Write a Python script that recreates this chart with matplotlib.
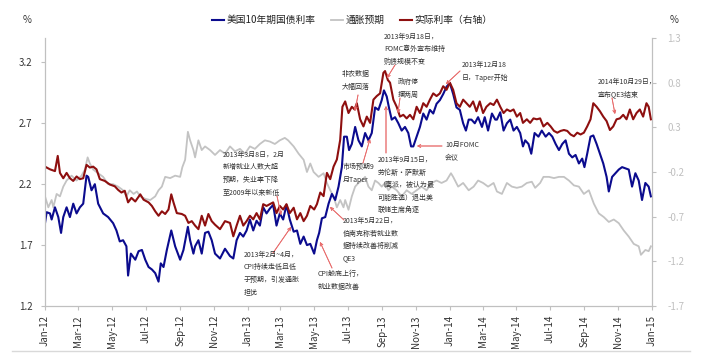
import matplotlib
matplotlib.use("Agg")
import matplotlib.pyplot as plt
import matplotlib.dates as mdates
from matplotlib.lines import Line2D
import pandas as pd
import numpy as np

plt.rcParams['font.family'] = ['Noto Sans CJK SC', 'DejaVu Sans']

# ---------------- data (days since 2012-01-01) ----------------
blue_days = [0,3,9,12,18,24,29,33,39,45,51,57,63,69,75,78,84,90,96,105,
             114,123,129,135,141,147,150,155,163,169,175,181,187,193,199,205,209,214,220,228,
             235,244,250,258,262,268,
             271,277,283,289,295,301,307,316,325,334,340,346,352,358,364,370,376,382,388,394,
             400,406,412,418,424,430,436,442,449,455,461,467,473,479,486,491,495,500,506,512,
             518,524,530,536,540,
             545,549,554,560,566,572,578,584,590,596,602,608,612,617,621,626,632,638,644,650,
             656,661,665,671,677,683,689,695,701,707,713,719,725,731,737,743,749,755,760,765,
             770,776,782,789,794,800,807,813,
             816,822,828,834,840,846,852,858,863,867,873,878,884,891,897,904,910,916,922,928,
             934,940,946,952,958,964,970,974,979,985,990,996,1002,1008,1014,1018,1024,1030,1036,1042,
             1048,1054,1060,1066,1072,1078,1084,1090,1094]
blue_vals = [1.88,1.97,1.96,1.91,2.01,1.93,1.80,1.93,2.01,1.93,2.04,1.96,2.01,2.04,2.27,2.26,2.15,2.20,2.04,1.96,
             1.93,1.88,1.82,1.73,1.74,1.69,1.45,1.63,1.58,1.65,1.66,1.58,1.52,1.50,1.47,1.40,1.55,1.52,1.66,1.82,
             1.69,1.58,1.66,1.85,1.74,1.63,
             1.69,1.74,1.63,1.80,1.81,1.74,1.63,1.59,1.67,1.61,1.59,1.74,1.80,1.77,1.82,1.91,1.82,1.90,1.86,2.01,
             1.96,2.00,2.03,1.86,1.96,1.91,2.03,1.91,1.81,1.82,1.71,1.77,1.70,1.71,1.63,1.74,1.80,1.92,1.93,2.04,
             2.12,2.07,2.18,2.34,2.59,
             2.59,2.48,2.53,2.67,2.56,2.51,2.62,2.56,2.62,2.83,2.81,2.89,2.97,2.92,2.83,2.73,2.75,2.70,2.64,2.67,
             2.62,2.51,2.51,2.59,2.67,2.78,2.73,2.81,2.78,2.86,2.89,2.94,3.00,3.03,2.94,2.83,2.81,2.70,2.64,2.73,
             2.73,2.70,2.75,2.67,2.75,2.64,2.78,2.73,
             2.73,2.79,2.64,2.70,2.73,2.64,2.67,2.62,2.51,2.56,2.53,2.45,2.62,2.59,2.64,2.59,2.62,2.59,2.53,2.48,
             2.53,2.56,2.45,2.42,2.44,2.37,2.41,2.34,2.45,2.59,2.60,2.53,2.45,2.37,2.26,2.14,2.26,2.29,2.32,2.34,
             2.33,2.32,2.18,2.29,2.23,2.07,2.21,2.18,2.10]

gray_days = [0,6,12,15,21,27,33,39,48,57,66,72,77,81,87,96,105,114,123,132,
             141,147,153,160,166,172,181,190,199,205,211,217,226,235,244,248,253,258,262,268,
             271,277,283,289,298,307,316,325,334,343,352,361,370,379,388,397,406,415,424,433,
             439,449,458,467,473,479,485,494,503,509,515,521,527,533,539,
             542,548,554,560,566,572,578,584,590,596,602,608,614,620,626,635,644,653,662,671,
             680,689,698,707,716,725,733,737,746,755,765,774,782,791,800,810,
             816,825,834,843,852,861,870,879,885,894,900,910,919,928,937,946,955,964,973,982,
             991,1000,1009,1018,1027,1036,1045,1054,1063,1072,1076,1084,1090,1094]
gray_vals = [2.10,2.01,2.07,2.01,2.12,2.10,2.18,2.23,2.27,2.23,2.27,2.32,2.42,2.37,2.32,2.29,2.26,2.20,2.20,2.18,
             2.15,2.10,2.15,2.12,2.14,2.10,2.08,2.07,2.10,2.15,2.18,2.26,2.25,2.27,2.26,2.34,2.40,2.63,2.56,2.48,
             2.42,2.56,2.48,2.51,2.48,2.44,2.48,2.45,2.51,2.47,2.49,2.45,2.51,2.49,2.53,2.56,2.55,2.53,2.56,2.58,
             2.56,2.51,2.45,2.40,2.30,2.37,2.30,2.26,2.29,2.21,2.15,2.10,2.01,2.07,2.01,
             2.07,1.99,2.10,2.18,2.21,2.23,2.26,2.18,2.15,2.23,2.21,2.18,2.21,2.15,2.18,2.15,2.10,2.15,2.12,2.15,
             2.18,2.15,2.21,2.23,2.21,2.23,2.29,2.26,2.18,2.21,2.15,2.18,2.23,2.21,2.18,2.21,
             2.14,2.12,2.21,2.18,2.17,2.18,2.21,2.22,2.17,2.21,2.26,2.26,2.25,2.26,2.26,2.23,2.19,2.18,2.12,2.15,
             2.04,1.96,1.93,1.89,1.91,1.88,1.82,1.77,1.71,1.69,1.62,1.66,1.65,1.69]

red_days = [0,9,18,23,27,33,39,45,51,57,63,69,75,81,87,93,99,108,117,126,
            132,138,144,150,156,163,172,178,187,193,199,205,211,217,223,228,232,238,247,253,
            259,265,
            271,277,283,289,295,301,307,316,325,334,340,346,352,358,364,370,376,382,388,394,
            400,406,412,418,424,430,436,442,449,455,461,467,473,479,486,491,497,503,509,515,
            521,527,533,537,542,
            548,554,559,563,569,575,581,587,593,599,605,611,614,619,623,629,635,641,647,653,
            659,665,671,677,683,689,695,701,707,713,719,725,731,737,743,749,755,761,767,773,
            779,785,791,797,804,810,
            816,822,828,834,840,846,852,858,863,870,876,882,888,894,900,907,913,919,925,931,
            937,943,949,955,961,967,973,979,985,990,996,1002,1008,1014,1020,1026,1032,1038,1044,1050,
            1056,1062,1068,1074,1080,1086,1090,1094]
red_vals = [-0.14,-0.17,-0.19,-0.02,-0.21,-0.27,-0.21,-0.27,-0.30,-0.25,-0.28,-0.27,-0.12,-0.15,-0.14,-0.17,-0.28,-0.30,-0.34,-0.36,
            -0.40,-0.43,-0.41,-0.54,-0.49,-0.53,-0.45,-0.51,-0.54,-0.58,-0.64,-0.69,-0.64,-0.67,-0.62,-0.45,-0.54,-0.66,-0.67,-0.69,
            -0.77,-0.75,
            -0.80,-0.84,-0.69,-0.80,-0.67,-0.75,-0.79,-0.84,-0.75,-0.77,-0.92,-0.80,-0.69,-0.80,-0.75,-0.69,-0.73,-0.66,-0.73,-0.56,
            -0.58,-0.56,-0.54,-0.66,-0.58,-0.62,-0.56,-0.66,-0.60,-0.73,-0.66,-0.75,-0.69,-0.58,-0.62,-0.56,-0.43,-0.47,-0.21,-0.28,
            -0.14,-0.06,0.16,0.53,0.59,
            0.46,0.53,0.50,0.57,0.39,0.31,0.42,0.35,0.61,0.65,0.68,0.91,0.93,0.83,0.80,0.61,0.53,0.42,0.44,0.40,
            0.44,0.39,0.53,0.46,0.57,0.53,0.61,0.68,0.65,0.68,0.76,0.72,0.80,0.72,0.57,0.53,0.61,0.57,0.53,0.59,
            0.48,0.59,0.46,0.53,0.57,0.55,
            0.61,0.53,0.46,0.50,0.48,0.50,0.42,0.46,0.35,0.39,0.35,0.40,0.39,0.40,0.31,0.35,0.31,0.26,0.24,0.26,
            0.27,0.26,0.22,0.20,0.24,0.22,0.24,0.31,0.39,0.57,0.53,0.48,0.42,0.37,0.27,0.31,0.39,0.40,0.44,0.39,
            0.50,0.39,0.46,0.50,0.42,0.57,0.53,0.39]

series_names = ['美国10年期国债利率', '通胀预期', '实际利率（右轴）']
left_ticks = [1.2, 1.7, 2.2, 2.7, 3.2]
right_ticks = [-1.7, -1.2, -0.7, -0.2, 0.3, 0.8, 1.3]

annotations = [
    ("2013年3月8日，2月\n新增就业人数大超\n预期，失业率下降\n至2009年以来新低", (223, 151), (277, 196), (281, 215)),
    ("2013年2月~4月，\nCPI持续走低且低\n于预期，引发通胀\n担忧", (244, 251), (273, 253), (291, 227)),
    ("CPI触底上行，\n就业数据改善", (318, 270), (332, 268), (320, 242)),
    ("2013年5月22日，\n伯南克称若就业数\n据持续改善将削减\nQE3", (343, 217), (344, 220), (330, 207)),
    ("市场预期9\n月Taper", (343, 163), (363, 163), (370, 139)),
    ("非农数据\n大幅回落", (342, 70), (358, 95), (355, 111)),
    ("2013年9月18日，\nFOMC意外宣布维持\n购债规模不变", (384, 33), (395, 65), (387, 78)),
    ("政府停\n摆两周", (398, 78), (400, 98), (398, 113)),
    ("2013年9月15日，\n劳伦斯·萨默斯\n（鹰派，被认为最\n可能胜选）退出美\n联储主席角逐", (378, 156), (386, 153), (386, 106)),
    ("10月FOMC\n会议", (445, 141), (442, 146), (417, 146)),
    ("2013年12月18\n日，Taper开始", (462, 61), (460, 71), (446, 84)),
    ("2014年10月29日，\n宣布QE3结束", (598, 78), (612, 98), (615, 114)),
]

# ---------------- figure ----------------
W, H = 717, 355
fig = plt.figure(figsize=(W / 100, H / 100), dpi=100)
ax = fig.add_axes([45 / W, 49 / H, 607 / W, 268 / H])
ax2 = ax.twinx()

base = pd.Timestamp('2012-01-01')
to_dates = lambda d: base + pd.to_timedelta(d, unit='D')

c_blue = '#0b0b8e'
c_gray = '#c3c3c3'
c_red = '#8e0f0f'
spine_c = '#c0c0c0'

ax.plot(to_dates(gray_days), gray_vals, color=c_gray, lw=1.3)
ax.plot(to_dates(blue_days), blue_vals, color=c_blue, lw=1.5)
ax2.plot(to_dates(red_days), red_vals, color=c_red, lw=1.5)

ax.set_xlim(pd.Timestamp('2012-01-01'), pd.Timestamp('2015-01-01'))
ax.set_ylim(1.2, 3.4)
ax2.set_ylim(-1.7, 1.3)
ax.set_yticks(left_ticks)
ax.set_yticklabels([f'{v:.1f}' for v in left_ticks])
ax2.set_yticks(right_ticks)
ax2.set_yticklabels([f'{v:.1f}' for v in right_ticks])
for lab, v in zip(ax2.get_yticklabels(), right_ticks):
    lab.set_color('#ff3b3b' if v < 0 else '#333333')

ax.xaxis.set_major_locator(mdates.MonthLocator(bymonth=[1, 3, 5, 7, 9, 11]))
ax.xaxis.set_major_formatter(mdates.DateFormatter('%b-%y'))
for lab in ax.get_xticklabels():
    lab.set_rotation(90)

for a in (ax, ax2):
    for s in a.spines.values():
        s.set_color(spine_c)
        s.set_linewidth(0.8)
    a.spines['top'].set_visible(False)
    a.tick_params(colors=spine_c, length=3, width=0.8, labelsize=7)
ax.tick_params(axis='both', labelcolor='#333333')
ax.tick_params(axis='y', pad=6)
ax2.tick_params(axis='y', pad=8)

fig.text(23 / W, 1 - 20 / H, '%', fontsize=7, color='#333333', va='center')
fig.text(670 / W, 1 - 20 / H, '%', fontsize=7, color='#333333', va='center')

handles = [Line2D([], [], color=c_blue, lw=1.5),
           Line2D([], [], color=c_gray, lw=1.3),
           Line2D([], [], color=c_red, lw=1.5)]
fig.legend(handles, series_names, loc='center', bbox_to_anchor=(352 / W, 1 - 20 / H),
           ncol=3, frameon=False, fontsize=7, handlelength=1.3, handletextpad=0.2,
           columnspacing=1.6, labelcolor='#222222')

for text, (tx, ty), (sx, sy), (ex, ey) in annotations:
    fig.text(tx / W, 1 - ty / H, text, fontsize=5, color='#333333', ha='left', va='top',
             linespacing=1.75)
    fig.add_artist(plt.annotate('', xy=(ex, H - ey), xytext=(sx, H - sy),
                                xycoords='figure pixels', textcoords='figure pixels',
                                arrowprops=dict(arrowstyle='->', color='#e86a6a', lw=0.6,
                                                mutation_scale=5, shrinkA=0, shrinkB=0)))

fig.add_artist(Line2D([12 / W, 690 / W], [4 / H, 4 / H], color='#d9d9d9', lw=1.0))

fig.savefig('out.png', dpi=100, facecolor='white')
